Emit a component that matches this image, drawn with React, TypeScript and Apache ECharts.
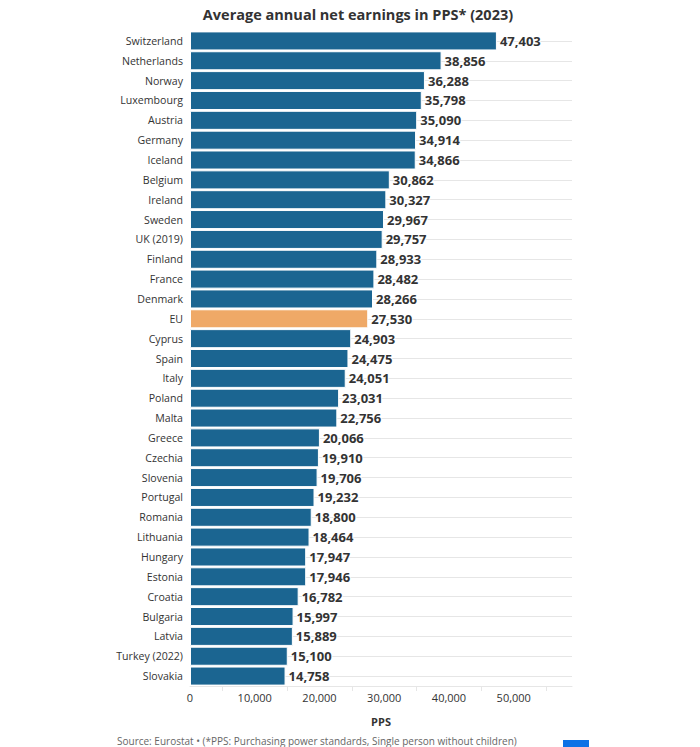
import React, { useEffect, useRef } from "react";
import * as echarts from "echarts";

const countries = [
  "Switzerland", "Netherlands", "Norway", "Luxembourg", "Austria", "Germany", "Iceland",
  "Belgium", "Ireland", "Sweden", "UK (2019)", "Finland", "France", "Denmark", "EU",
  "Cyprus", "Spain", "Italy", "Poland", "Malta", "Greece", "Czechia", "Slovenia",
  "Portugal", "Romania", "Lithuania", "Hungary", "Estonia", "Croatia", "Bulgaria",
  "Latvia", "Turkey (2022)", "Slovakia",
];
const earnings = [
  47403, 38856, 36288, 35798, 35090, 34914, 34866, 30862, 30327, 29967, 29757, 28933,
  28482, 28266, 27530, 24903, 24475, 24051, 23031, 22756, 20066, 19910, 19706, 19232,
  18800, 18464, 17947, 17946, 16782, 15997, 15889, 15100, 14758,
];
const highlight = "EU";
const xTicks = [0, 10000, 20000, 30000, 40000, 50000];

const BLUE = "#1b6591";
const ORANGE = "#efa967";
const FONT = "'Open Sans', 'Noto Sans', sans-serif";

export default function App() {
  const ref = useRef<HTMLDivElement>(null);
  useEffect(() => {
    if (!ref.current) return;
    const chart = echarts.init(ref.current, undefined, { renderer: "svg" });
    chart.setOption({
      animation: false,
      textStyle: { fontFamily: FONT },
      title: {
        text: "Average annual net earnings in PPS* (2023)",
        left: 353,
        textAlign: "center",
        top: 2,
        textStyle: { fontSize: 14.5, fontWeight: "bold", color: "#333333", fontFamily: FONT },
      },
      grid: { left: 190, top: 31, width: 382, height: 655, containLabel: false },
      xAxis: {
        type: "value",
        min: 0,
        max: 59000,
        interval: 10000,
        name: "PPS",
        nameLocation: "middle",
        nameGap: 30,
        nameTextStyle: { fontSize: 11, fontWeight: "bold", color: "#333333", fontFamily: FONT },
        axisLine: { show: true, lineStyle: { color: "#e6e6e6", width: 1 } },
        axisTick: { show: false },
        minorTick: { show: true, splitNumber: 2, length: 5, lineStyle: { color: "#e6e6e6" } },
        splitLine: { show: false },
        axisLabel: {
          showMaxLabel: false,
          fontSize: 11,
          color: "#333333",
          margin: 6,
          fontFamily: FONT,
          formatter: (v: number) => (xTicks.includes(v) ? v.toLocaleString("en-US") : ""),
        },
      },
      yAxis: {
        type: "category",
        inverse: true,
        data: countries,
        axisLine: { show: false },
        axisTick: { show: false },
        splitLine: { show: false },
        axisLabel: { fontSize: 10.6, color: "#333333", margin: 7, fontFamily: FONT },
      },
      series: [
        {
          type: "scatter",
          data: [],
          z: 0,
          silent: true,
          markLine: {
            z: 0,
            silent: true,
            symbol: "none",
            label: { show: false },
            lineStyle: { color: "#e6e6e6", width: 1, type: "solid" },
            data: countries.map((c) => ({ yAxis: c })),
          },
        },
        {
          type: "bar",
          z: 3,
          barCategoryGap: "4%",
          data: earnings.map((v, i) => ({
            value: v,
            itemStyle: { color: countries[i] === highlight ? ORANGE : BLUE },
          })),
          itemStyle: { borderColor: "#ffffff", borderWidth: 1 },
          label: {
            show: true,
            position: "right",
            distance: 3,
            fontSize: 13,
            fontWeight: "bold",
            color: "#333333",
            textBorderColor: "#ffffff",
            textBorderWidth: 2,
            fontFamily: FONT,
            formatter: (p: any) => Number(p.value).toLocaleString("en-US"),
          },
        },
      ],
      graphic: [
        {
          type: "text",
          left: 117,
          top: 736,
          style: {
            text: "Source: Eurostat • (*PPS: Purchasing power standards, Single person without children)",
            fontSize: 10,
            fill: "#666666",
            fontFamily: FONT,
          },
        },
        {
          type: "rect",
          left: 563,
          top: 740,
          shape: { width: 26, height: 10 },
          style: { fill: "#0d72e6" },
        },
      ],
    });
    return () => chart.dispose();
  }, []);
  return <div ref={ref} style={{ width: 700, height: 747, margin: "-8px 0 0 -8px" }} />;
}
